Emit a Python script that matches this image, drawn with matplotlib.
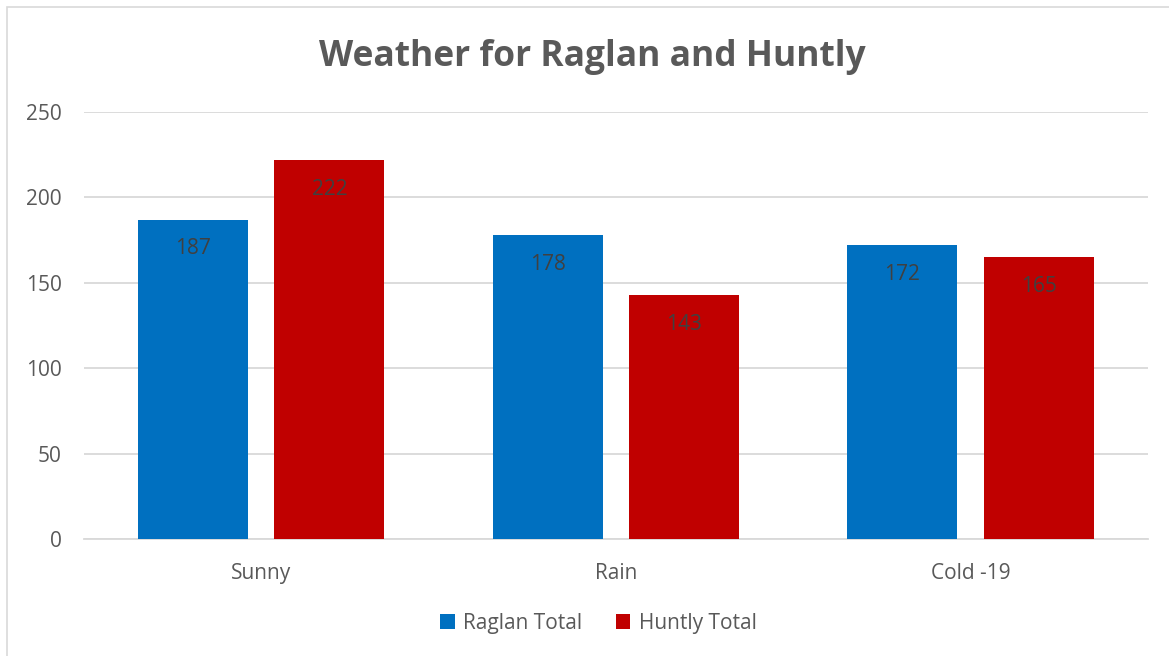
import matplotlib.pyplot as plt
import numpy as np
from matplotlib.patches import Rectangle

categories = ['Sunny', 'Rain', 'Cold -19']
raglan = [187, 178, 172]
huntly = [222, 143, 165]

plt.rcParams['font.family'] = ['Open Sans', 'DejaVu Sans']

fig = plt.figure(figsize=(11.69, 6.56), dpi=100)
ax = fig.add_axes([0.0719, 0.1784, 0.910, 0.6509])

# chart border
fig.patches.append(Rectangle((7/1169, -0.01), 1.0, 1 - 7/656 + 0.01, transform=fig.transFigure,
                             fill=False, edgecolor='#D9D9D9', linewidth=1.2))

x = np.arange(len(categories))
w = 0.31
off = 0.192
b1 = ax.bar(x - off, raglan, width=w, color='#0070C0', label='Raglan Total', zorder=3)
b2 = ax.bar(x + off, huntly, width=w, color='#C00000', label='Huntly Total', zorder=3)

for bars, vals in [(b1, raglan), (b2, huntly)]:
    for b, v in zip(bars, vals):
        ax.text(b.get_x() + b.get_width()/2, v - 11, str(v), ha='center', va='top',
                fontsize=15, color='#404040', zorder=4)

ax.set_xlim(-0.5, 2.5)
ax.set_ylim(0, 250)
ax.set_yticks(range(0, 251, 50))
ax.set_xticks(x)
ax.set_xticklabels(categories)
ax.grid(axis='y', color='#D9D9D9', linewidth=1.3, zorder=0)
for s in ['top', 'right', 'left']:
    ax.spines[s].set_visible(False)
ax.spines['bottom'].set_color('#D9D9D9')
ax.spines['bottom'].set_linewidth(1.3)
ax.tick_params(length=0, labelsize=15, labelcolor='#595959')
ax.tick_params(axis='x', pad=17)
ax.tick_params(axis='y', pad=16)

fig.text(0.507, 0.913, 'Weather for Raglan and Huntly', ha='center', va='center',
         fontsize=25.5, fontweight='bold', color='#595959')

fig.legend(loc='center', bbox_to_anchor=(0.512, 0.05), ncol=2, frameon=False,
           fontsize=15, labelcolor='#595959', handlelength=0.7, handleheight=0.7,
           handletextpad=0.4, columnspacing=1.6)

plt.savefig('out.png', dpi=100)
